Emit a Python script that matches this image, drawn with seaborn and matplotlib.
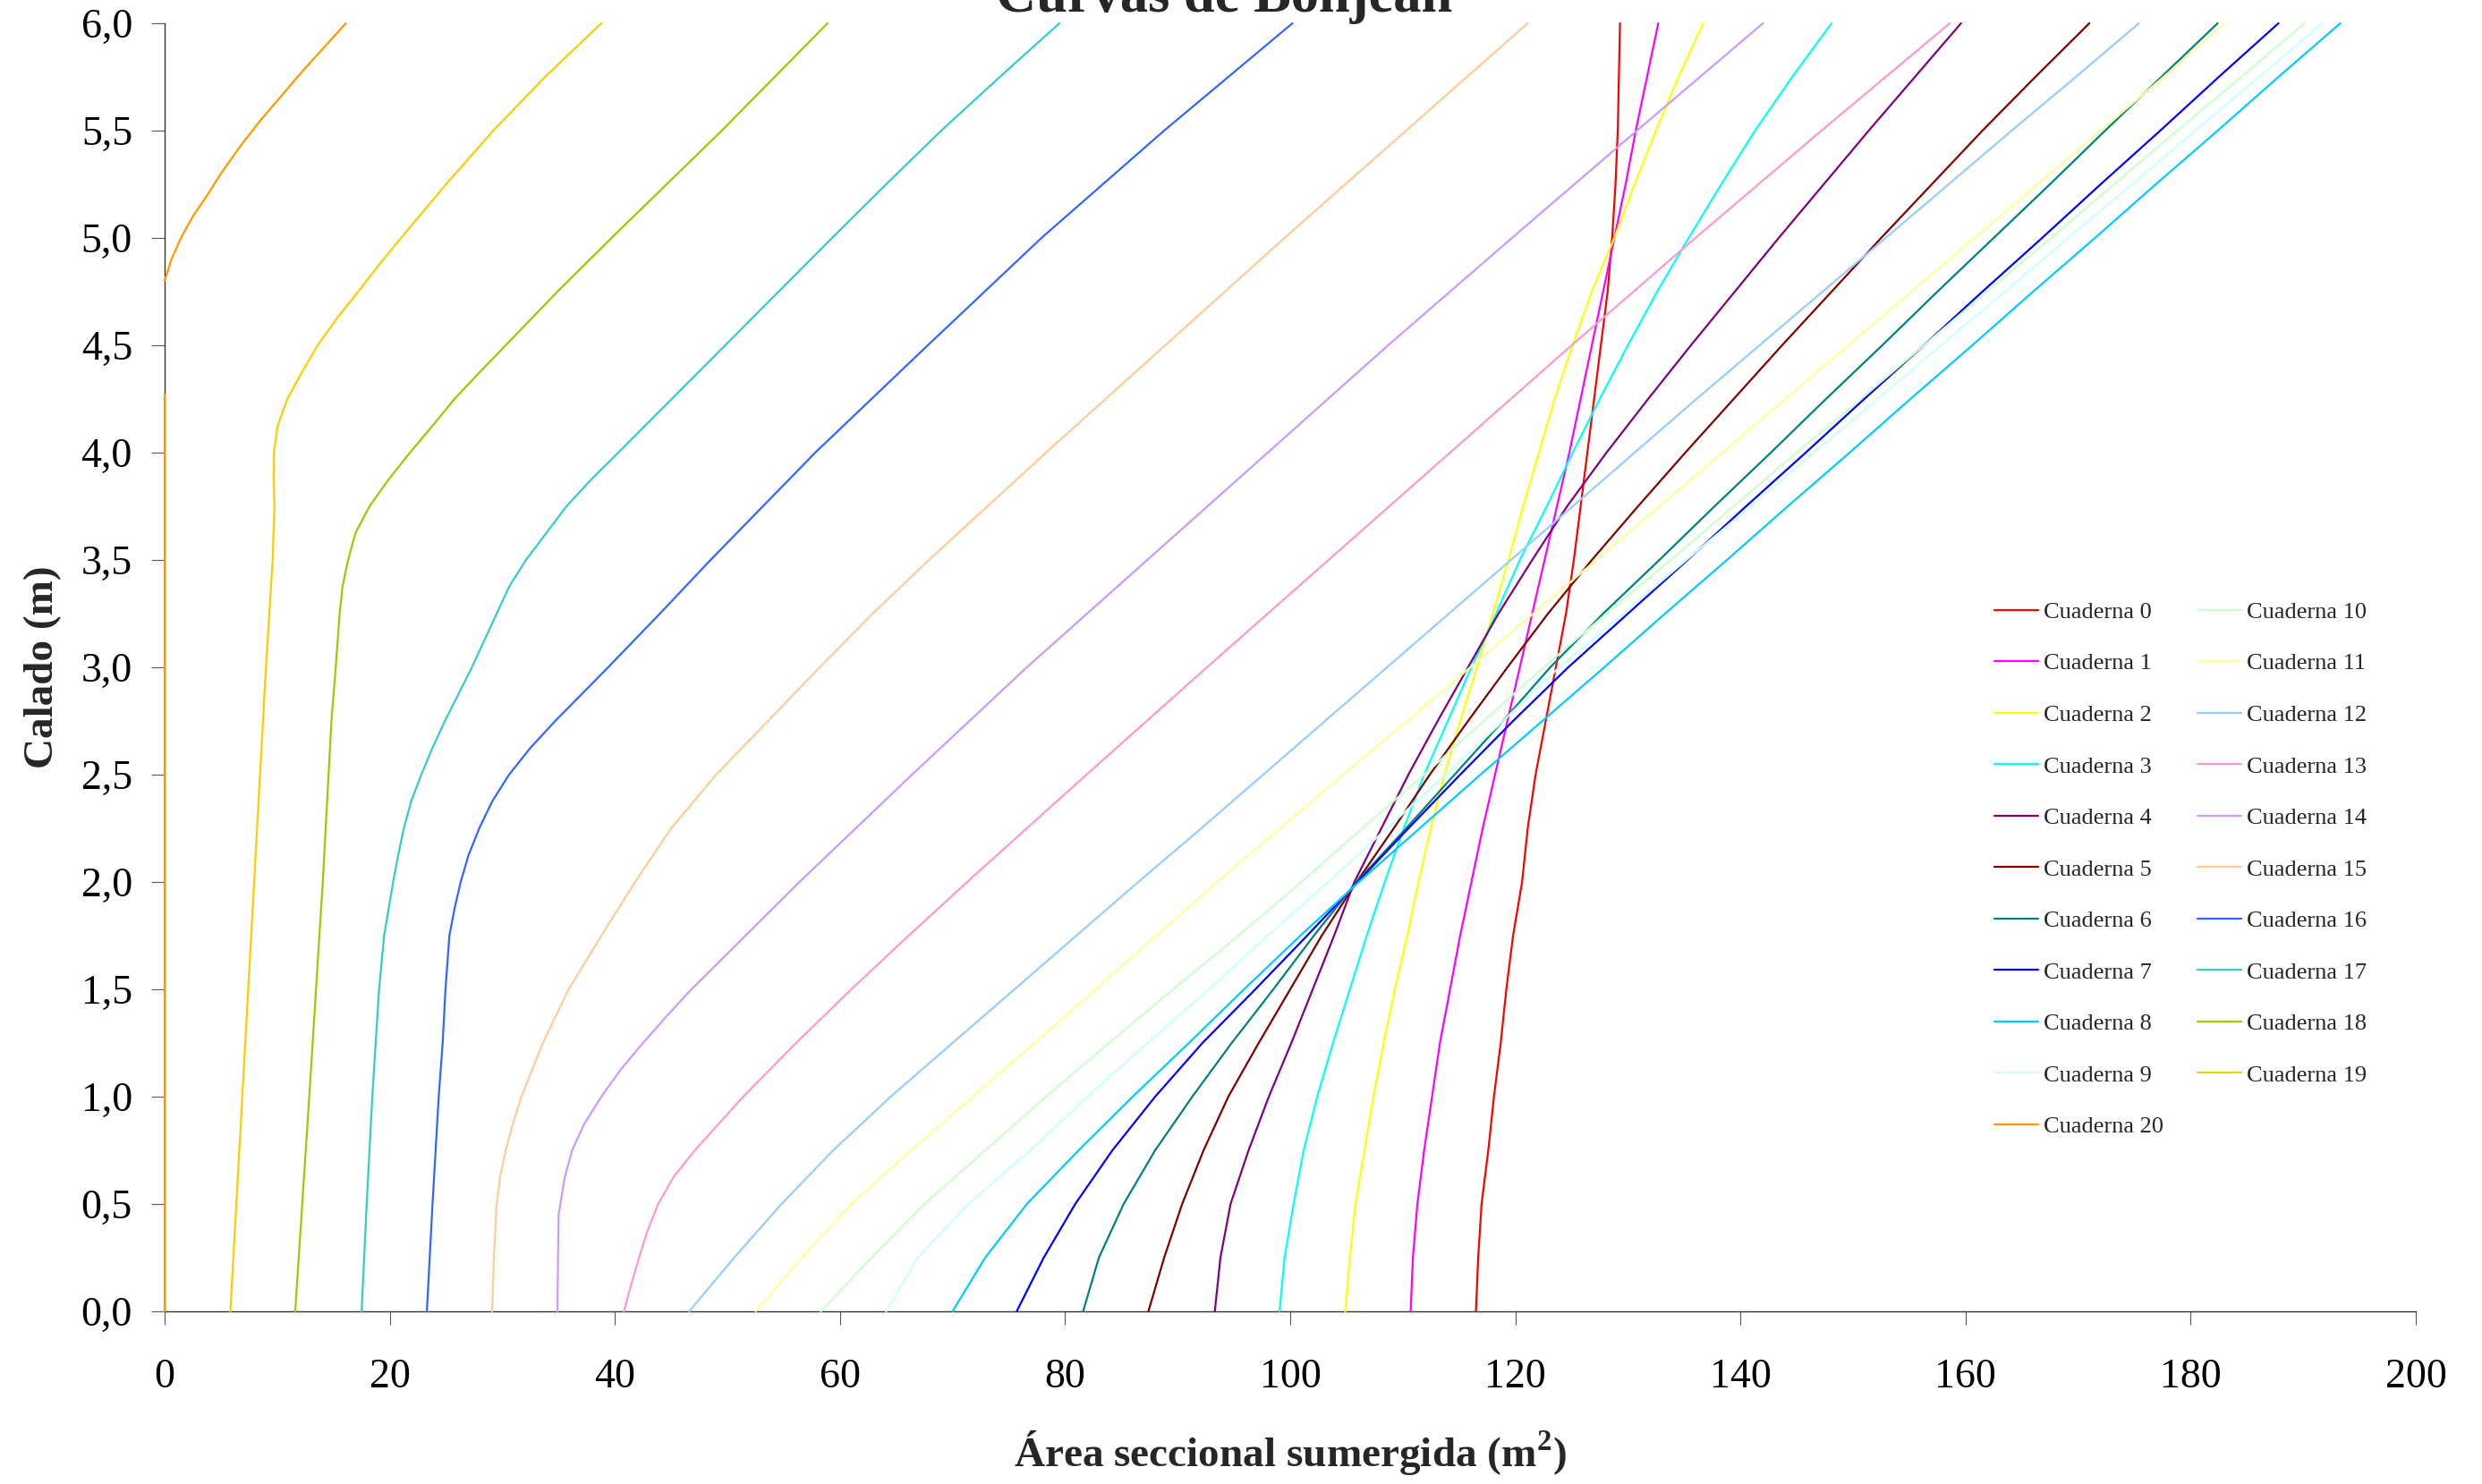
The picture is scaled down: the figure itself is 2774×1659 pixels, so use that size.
import numpy as np
import pandas as pd
import matplotlib
matplotlib.use("Agg")
import matplotlib.pyplot as plt
from matplotlib.ticker import FuncFormatter
import seaborn as sns

# ---------------- data ----------------
# common draft grid (m) for frames 0-12
draft = [0.0, 0.25, 0.5, 0.75, 1.0, 1.25, 1.5, 1.75, 2.0, 2.25, 2.5, 2.75, 3.0,
         3.25, 3.5, 3.75, 4.0, 4.25, 4.5, 4.75, 5.0, 5.25, 5.5, 5.75, 6.0]

c0 = [116.5, 116.7, 117.0, 117.6, 118.1, 118.7, 119.2, 119.8, 120.6, 121.1, 121.8, 122.7, 123.6,
      124.5, 125.2, 125.8, 126.4, 127.0, 127.6, 128.2, 128.6, 128.9, 129.1, 129.2, 129.3]
c1 = [110.7, 110.9, 111.3, 111.9, 112.6, 113.3, 114.2, 115.1, 116.1, 117.1, 118.2, 119.3, 120.4,
      121.5, 122.6, 123.7, 124.8, 125.8, 126.8, 127.8, 128.8, 129.8, 130.7, 131.7, 132.7]
c2 = [104.9, 105.3, 105.8, 106.6, 107.4, 108.3, 109.3, 110.4, 111.4, 112.5, 113.7, 115.1, 116.6,
      118.0, 119.4, 120.7, 122.1, 123.5, 125.1, 126.8, 128.8, 130.6, 132.5, 134.5, 136.7]
c3 = [99.05, 99.5, 100.3, 101.2, 102.4, 103.8, 105.3, 106.8, 108.4, 110.1, 111.9, 114.0, 116.1,
      118.3, 120.4, 122.8, 125.1, 127.5, 130.0, 132.6, 135.4, 138.3, 141.3, 144.6, 148.1]
c4 = [93.3, 93.8, 94.7, 96.3, 98.1, 100.1, 102.0, 103.9, 105.7, 108.1, 110.5, 113.1, 115.8,
      118.5, 121.5, 124.6, 128.1, 131.8, 135.6, 139.5, 143.4, 147.4, 151.4, 155.5, 159.6]
c5 = [87.4, 88.8, 90.4, 92.3, 94.5, 97.2, 100.0, 102.8, 105.9, 109.2, 112.4, 115.8, 119.3,
      122.9, 126.8, 130.9, 135.1, 139.4, 143.7, 148.1, 152.5, 157.0, 161.5, 166.2, 171.0]
c6 = [81.6, 83.0, 85.2, 88.0, 91.3, 94.8, 98.5, 102.1, 105.9, 110.3, 114.6, 118.9, 123.1,
      127.8, 132.8, 137.7, 142.7, 147.6, 152.6, 157.5, 162.5, 167.5, 172.4, 177.4, 182.4]
c7 = [75.7, 78.1, 80.9, 84.2, 88.0, 92.2, 96.9, 101.5, 106.0, 110.5, 115.1, 119.8, 124.7,
      130.0, 135.3, 140.5, 145.8, 151.0, 156.3, 161.5, 166.8, 172.0, 177.3, 182.5, 187.8]
c8 = [70.0, 72.9, 76.6, 81.2, 86.0, 91.0, 95.9, 100.9, 106.1, 111.5, 116.9, 122.4, 127.9,
      133.3, 138.8, 144.2, 149.7, 155.1, 160.6, 166.0, 171.5, 176.9, 182.4, 187.8, 193.3]
c9 = [64.1, 66.9, 71.4, 76.9, 82.0, 87.3, 92.8, 98.0, 103.4, 108.6, 113.8, 118.9, 123.9,
      129.6, 135.2, 140.9, 146.5, 152.2, 157.8, 163.5, 169.1, 174.8, 180.4, 186.1, 191.7]
c10 = [58.3, 62.8, 67.5, 72.9, 78.3, 83.9, 89.6, 95.4, 101.0, 106.4, 111.9, 117.2, 122.5,
       128.1, 133.8, 139.4, 145.0, 150.7, 156.3, 161.9, 167.6, 173.2, 178.8, 184.5, 190.1]
c11 = [52.5, 56.6, 61.0, 66.3, 71.8, 77.3, 82.7, 88.1, 93.5, 99.1, 104.7, 110.4, 116.0,
       121.6, 127.2, 132.8, 138.4, 144.0, 149.6, 155.2, 160.8, 166.4, 172.0, 177.6, 183.0]
c12 = [46.6, 50.6, 54.8, 59.4, 64.5, 70.0, 75.5, 81.0, 86.5, 92.1, 97.6, 103.1, 108.6,
       114.1, 119.6, 125.1, 130.6, 136.1, 141.7, 147.3, 152.9, 158.5, 164.1, 169.8, 175.4]

# frames 13-20 have their own draft points (denser where they bend)
d13 = [0.0, 0.125, 0.25, 0.375, 0.5, 0.625, 0.75, 0.875, 1.0, 1.25, 1.5, 1.75, 2.0,
       2.5, 3.0, 3.5, 4.0, 4.5, 5.0, 5.5, 6.0]
c13 = [40.8, 41.45, 42.15, 42.9, 43.85, 45.2, 47.1, 49.25, 51.4, 56.1, 61.0, 66.1, 71.3,
       81.9, 92.6, 103.4, 114.2, 125.0, 136.0, 147.2, 158.6]

d14 = [0.0, 0.25, 0.45, 0.625, 0.75, 0.875, 1.0, 1.125, 1.25, 1.375, 1.5, 1.75, 2.0,
       2.5, 3.0, 3.5, 4.0, 4.5, 5.0, 5.5, 6.0]
c14 = [34.9, 34.95, 35.0, 35.55, 36.2, 37.3, 38.8, 40.5, 42.5, 44.6, 46.8, 51.6, 56.4,
       66.4, 76.6, 87.3, 98.0, 108.7, 119.7, 130.8, 142.0]

d15 = [0.0, 0.25, 0.5, 0.625, 0.75, 0.875, 1.0, 1.25, 1.5, 1.75, 2.0, 2.25, 2.5,
       2.75, 3.0, 3.25, 3.5, 4.0, 4.5, 5.0, 5.5, 6.0]
c15 = [29.1, 29.25, 29.5, 29.8, 30.3, 30.95, 31.7, 33.6, 35.9, 38.8, 41.8, 45.0, 49.0,
       53.6, 58.2, 62.9, 67.9, 78.3, 88.9, 99.5, 110.3, 121.1]

d16 = [0.0, 0.5, 1.0, 1.25, 1.5, 1.75, 1.875, 2.0, 2.125, 2.25, 2.375, 2.5, 2.625,
       2.75, 3.0, 3.25, 3.5, 4.0, 4.5, 5.0, 5.5, 6.0]
c16 = [23.3, 23.8, 24.35, 24.7, 24.95, 25.3, 25.75, 26.3, 27.0, 27.95, 29.1, 30.6, 32.5,
       34.7, 39.4, 44.0, 48.5, 57.8, 67.8, 77.9, 88.8, 100.2]

d17 = [0.0, 0.5, 1.0, 1.25, 1.5, 1.75, 2.0, 2.125, 2.25, 2.375, 2.5, 2.625, 2.75,
       3.0, 3.25, 3.375, 3.5, 3.625, 3.75, 3.875, 4.0, 4.5, 5.0, 5.25, 5.5, 5.75, 6.0]
c17 = [17.5, 17.95, 18.45, 18.75, 19.05, 19.5, 20.3, 20.75, 21.25, 21.9, 22.8, 23.8, 24.9,
       27.3, 29.5, 30.6, 32.1, 33.9, 35.7, 37.9, 40.3, 49.8, 59.3, 64.1, 69.0, 74.2, 79.5]

d18 = [0.0, 1.0, 2.0, 2.75, 3.0, 3.25, 3.375, 3.5, 3.625, 3.75, 3.875, 4.0, 4.125,
       4.25, 4.375, 4.5, 4.75, 5.0, 5.25, 5.5, 5.75, 6.0]
c18 = [11.6, 12.85, 14.05, 14.82, 15.2, 15.55, 15.8, 16.3, 16.95, 18.2, 19.9, 21.8, 23.8,
       25.75, 28.0, 30.3, 34.9, 39.7, 44.6, 49.5, 54.2, 58.9]

d19 = [0.0, 1.0, 2.0, 3.0, 3.5, 3.75, 3.875, 4.0, 4.125, 4.25, 4.375, 4.5, 4.625,
       4.75, 4.875, 5.0, 5.25, 5.5, 5.75, 6.0]
c19 = [5.84, 6.9, 7.95, 9.0, 9.6, 9.75, 9.68, 9.7, 10.05, 10.9, 12.2, 13.6, 15.3,
       17.2, 19.05, 21.0, 25.0, 29.2, 33.8, 38.8]

# frame 20: zero area up to 4.27 m, no data until 4.8 m
d20 = [0.0, 4.27, 4.5, 4.8, 4.9, 5.0, 5.1, 5.2, 5.3, 5.43, 5.55, 5.78, 6.0]
c20 = [0.0, 0.0, np.nan, 0.0, 0.6, 1.45, 2.5, 3.8, 5.0, 6.76, 8.55, 12.3, 16.1]

curves = [(draft, c0), (draft, c1), (draft, c2), (draft, c3), (draft, c4),
          (draft, c5), (draft, c6), (draft, c7), (draft, c8), (draft, c9),
          (draft, c10), (draft, c11), (draft, c12), (d13, c13), (d14, c14),
          (d15, c15), (d16, c16), (d17, c17), (d18, c18), (d19, c19), (d20, c20)]
names = ["Cuaderna %d" % i for i in range(21)]
colors = ["#FF0000", "#FF00FF", "#FFFF00", "#00FFFF", "#800080", "#800000",
          "#008080", "#0000FF", "#00CCFF", "#CCFFFF", "#CCFFCC", "#FFFF99",
          "#99CCFF", "#FF99CC", "#CC99FF", "#FFCC99", "#3366FF", "#33CCCC",
          "#99CC00", "#FFCC00", "#FF9900"]

xticks = [0, 20, 40, 60, 80, 100, 120, 140, 160, 180, 200]
yticks = [0.0, 0.5, 1.0, 1.5, 2.0, 2.5, 3.0, 3.5, 4.0, 4.5, 5.0, 5.5, 6.0]

# ---------------- long-form table ----------------
rows = []
for name, (ds, xs) in zip(names, curves):
    seg = 0
    for d, x in zip(ds, xs):
        if np.isnan(x):
            seg += 1          # a gap in the data breaks the line
            continue
        rows.append((name, seg, d, x))
df = pd.DataFrame(rows, columns=["Cuaderna", "tramo", "calado", "area"])

# ---------------- style ----------------
sns.set_style("ticks")
plt.rcParams["font.family"] = ["Liberation Serif", "DejaVu Serif"]
plt.rcParams["mathtext.fontset"] = "custom"
plt.rcParams["mathtext.rm"] = "Liberation Serif"
plt.rcParams["mathtext.bf"] = "Liberation Serif:bold"

W, H = 2774, 1659
fig = plt.figure(figsize=(W / 100, H / 100), dpi=100)
ax = fig.add_axes([184 / W, 1 - 1466 / H, 2516 / W, 1440 / H])

sns.lineplot(data=df, x="area", y="calado", hue="Cuaderna", hue_order=names,
             palette=dict(zip(names, colors)), units="tramo", estimator=None,
             sort=False, linewidth=1.6, ax=ax, zorder=3, clip_on=False)

ax.set_xlim(0, 200)
ax.set_ylim(0, 6)
ax.set_xticks(xticks)
ax.set_yticks(yticks)
ax.yaxis.set_major_formatter(FuncFormatter(lambda v, p: ("%.1f" % v).replace(".", ",")))
sns.despine(ax=ax)
for s in ("left", "bottom"):
    ax.spines[s].set_linewidth(1.0)
    ax.spines[s].set_color("#333333")
    ax.spines[s].set_zorder(2)

ax.tick_params(axis="both", direction="out", length=11, width=0.8,
               color="#555555", labelsize=33, labelcolor="black")
ax.tick_params(axis="x", pad=27)
ax.tick_params(axis="y", pad=15)

ax.set_xlabel(r"Área seccional sumergida (m$^{\mathbf{2}}$)", fontsize=34,
              fontweight="bold", labelpad=26)
ax.set_ylabel("Calado (m)", fontsize=34, fontweight="bold", labelpad=15.5)

fig.text(1368 / W, 1 - 13 / H, "Curvas de Bonjean", ha="center", va="baseline",
         fontsize=45, fontweight="bold")

# legend: two columns, Cuaderna 20 closes the first column
leg0 = ax.get_legend()
handles = list(leg0.legend_handles)
labels = [t.get_text() for t in leg0.get_texts()]
leg0.remove()
order = list(range(10)) + [20] + list(range(10, 20))
ax.legend([handles[i] for i in order], [labels[i] for i in order], ncol=2,
          loc="upper left", bbox_to_anchor=(2229 / W, 1 - 672.5 / H),
          bbox_transform=fig.transFigure, frameon=False, fontsize=19,
          handlelength=1.86, handletextpad=0.23, columnspacing=1.44,
          labelspacing=1.29, borderpad=0, borderaxespad=0)
for h in ax.get_legend().legend_handles:
    h.set_linewidth(1.6)

fig.savefig("out.png", dpi=100)
